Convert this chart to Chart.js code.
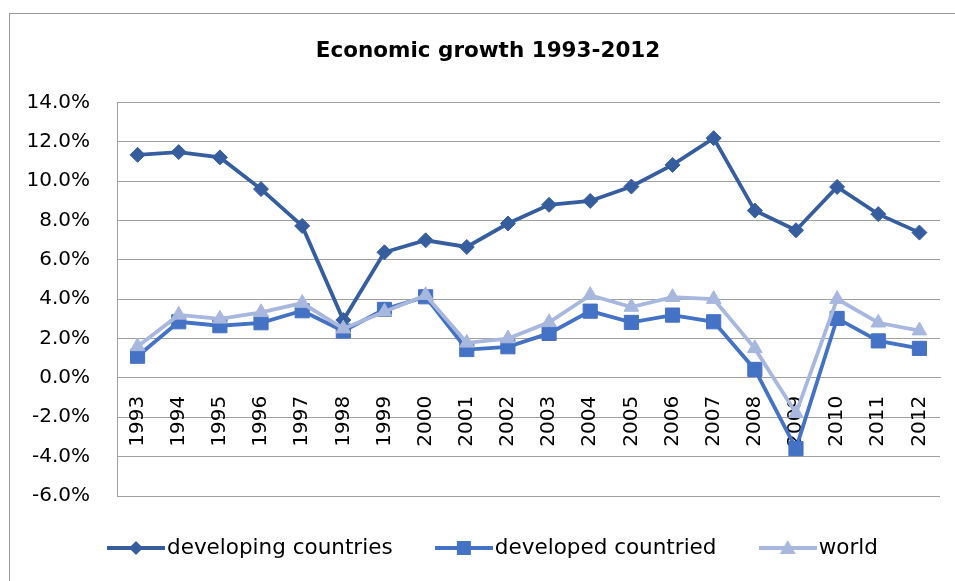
<!DOCTYPE html>
<html>
<head>
<meta charset="utf-8">
<script src="https://cdn.jsdelivr.net/npm/chart.js@4/dist/chart.umd.min.js"></script>
<style>
  html, body { margin: 0; padding: 0; background: #fff; }
  #frame { position: absolute; left: 9px; top: 13px; width: 1000px; height: 600px;
           border-left: 1px solid #999; border-top: 1px solid #999; }
  #wrap { position: absolute; left: 0; top: 0; width: 955px; height: 581px; }
</style>
</head>
<body>
<div id="frame"></div>
<div id="wrap"><canvas id="c" width="955" height="581"></canvas></div>
<script>
const categories = ['1993','1994','1995','1996','1997','1998','1999','2000','2001','2002',
                    '2003','2004','2005','2006','2007','2008','2009','2010','2011','2012'];
const developing = [11.33, 11.47, 11.20, 9.59, 7.72, 2.94, 6.38, 6.99, 6.65, 7.84,
                    8.79, 8.99, 9.72, 10.82, 12.18, 8.50, 7.50, 9.70, 8.32, 7.38];
const developed  = [1.10, 2.85, 2.65, 2.80, 3.41, 2.38, 3.48, 4.12, 1.44, 1.58,
                    2.26, 3.39, 2.82, 3.19, 2.85, 0.43, -3.59, 3.02, 1.88, 1.50];
const world      = [1.60, 3.20, 3.00, 3.33, 3.80, 2.50, 3.36, 4.20, 1.78, 2.00,
                    2.82, 4.20, 3.60, 4.10, 4.00, 1.50, -1.80, 4.00, 2.80, 2.40];
const seriesNames = ['developing countries', 'developed countried', 'world'];
const yTicks = { min: -6, max: 14, step: 2 };
const titleText = 'Economic growth 1993-2012';

const FONT = 'DejaVu Sans';
const colors = ['#365E9F', '#4472C4', '#A7B7DE'];
const shapes = ['rectRot', 'rect', 'triangle'];
const radii = [7.5, 10, 8.5];

function legendIcon(color, shape) {
  const c = document.createElement('canvas');
  c.width = 58; c.height = 20;
  const g = c.getContext('2d');
  g.strokeStyle = color; g.lineWidth = 4;
  g.beginPath(); g.moveTo(0, 10); g.lineTo(58, 10); g.stroke();
  g.fillStyle = color;
  g.beginPath();
  if (shape === 'rectRot') {
    g.moveTo(29, 3); g.lineTo(36, 10); g.lineTo(29, 17); g.lineTo(22, 10); g.closePath();
  } else if (shape === 'rect') {
    g.rect(22, 3, 14, 14);
  } else {
    g.moveTo(29, 2); g.lineTo(37, 16); g.lineTo(21, 16); g.closePath();
  }
  g.fill();
  return c;
}

const seriesData = [developing, developed, world];
const datasets = seriesData.map((d, i) => ({
  label: seriesNames[i],
  data: d,
  borderColor: colors[i],
  backgroundColor: colors[i],
  borderWidth: 3.8,
  pointStyle: shapes[i],
  pointRadius: radii[i],
  pointHoverRadius: radii[i],
  pointBorderWidth: 1,
  pointBorderColor: colors[i],
  pointBackgroundColor: colors[i],
  tension: 0,
  order: 3 - i
}));

const LEGEND_PAD = 51;
const placeBoxes = {
  id: 'placeBoxes',
  afterLayout(chart) {
    const lg = chart.legend;
    if (lg) {
      const h = lg.bottom - lg.top;
      lg.left = 115.75 - LEGEND_PAD; lg.right = lg.left + 945;
      lg.top = 548 - LEGEND_PAD - 10.75; lg.bottom = lg.top + h;
    }
    const tb = chart.titleBlock;
    if (tb) { tb.left += 36; }
  }
};

new Chart(document.getElementById('c'), {
  type: 'line',
  data: { labels: categories, datasets },
  plugins: [placeBoxes],
  options: {
    responsive: false,
    animation: false,
    layout: { padding: { left: 0, right: 15, top: 0, bottom: 2.5 } },
    scales: {
      y: {
        min: yTicks.min, max: yTicks.max,
        ticks: {
          stepSize: yTicks.step,
          color: '#000',
          font: { family: FONT, size: 20 },
          padding: 27,
          callback: v => v.toFixed(1) + '%'
        },
        grid: { color: '#A0A0A0', lineWidth: 1, drawTicks: false },
        border: { display: true, color: '#A0A0A0', width: 1 },
        afterFit: s => { s.width = 117; }
      },
      x: {
        position: { y: 0 },
        offset: true,
        ticks: {
          color: '#000',
          font: { family: FONT, size: 20 },
          minRotation: 90, maxRotation: 90,
          autoSkip: false,
          padding: 18
        },
        grid: { display: false, drawTicks: false },
        border: { display: true, color: '#A0A0A0', width: 1 },
        afterFit: s => { s.paddingLeft = 0; s.paddingRight = 0; }
      }
    },
    plugins: {
      title: {
        display: true,
        text: titleText,
        color: '#000',
        font: { family: FONT, size: 21.5, weight: 'bold' },
        padding: { top: 39, bottom: 37.5 }
      },
      legend: {
        position: 'bottom',
        align: 'start',
        labels: {
          color: '#000',
          font: { family: FONT, size: 21.5 },
          padding: LEGEND_PAD,
          usePointStyle: true,
          pointStyleWidth: 40.5,
          generateLabels: chart => chart.data.datasets.map((ds, i) => ({
            text: ds.label,
            fillStyle: ds.borderColor,
            strokeStyle: ds.borderColor,
            lineWidth: 0,
            pointStyle: legendIcon(ds.borderColor, ds.pointStyle),
            hidden: false,
            datasetIndex: i,
            fontColor: '#000'
          }))
        }
      },
      tooltip: { enabled: false }
    }
  }
});
</script>
</body>
</html>
